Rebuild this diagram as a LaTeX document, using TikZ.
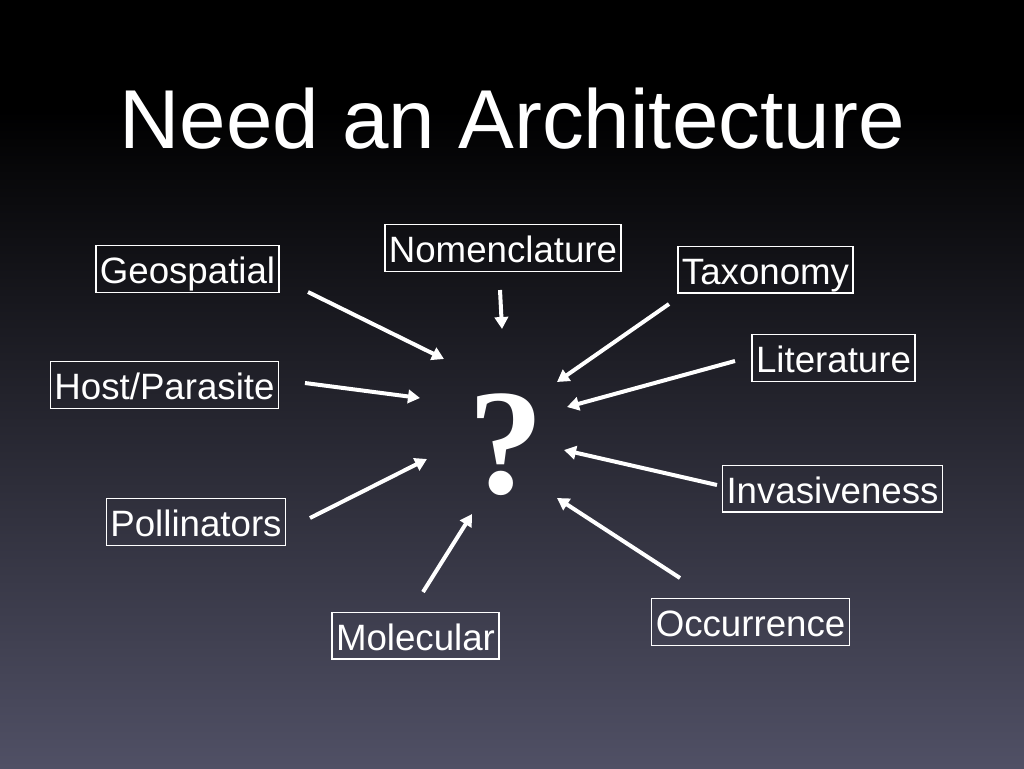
\documentclass[tikz,border=0pt]{standalone}
\usepackage{fontspec}
\setmainfont{Liberation Sans}
\newfontfamily\qfont{Liberation Serif}
\usetikzlibrary{arrows.meta}
\definecolor{bgbot}{RGB}{80,80,101}
\definecolor{bgmid}{RGB}{30,30,50}
\begin{document}
\begin{tikzpicture}[x=0.75pt,y=-0.75pt,
  lbl/.style={draw=white, line width=1pt, text=white,
    font=\fontsize{27.5}{27.5}\selectfont, inner xsep=3pt, inner ysep=1.5pt,
    text height=27pt, text depth=5pt},
  arr/.style={draw=white, line width=3pt, -{Triangle[length=9pt,width=10pt]}}]
\useasboundingbox (0,0) rectangle (1024,768);
\fill[black] (0,0) rectangle (1024,768);
\shade[top color=black, middle color=bgmid, bottom color=bgbot] (0,110) rectangle (1024,768);

\node[text=white, font=\fontsize{62.7}{62.7}\selectfont, anchor=base] (title) at (512,148) {Need an Architecture};

\node[text=white, font=\qfont\bfseries\fontsize{113}{113}\selectfont, anchor=base] (q) at (506,493) {?};

\node[lbl] (geo) at (187.5,269) {Geospatial};
\node[lbl] (nom) at (503,248) {Nomenclature};
\node[lbl] (tax) at (765.5,269.5) {Taxonomy};
\node[lbl] (host) at (164.5,385) {Host/Parasite};
\node[lbl] (lit) at (833.5,358) {Literature};
\node[lbl] (inv) at (832.5,488.5) {Invasiveness};
\node[lbl] (pol) at (196,522) {Pollinators};
\node[lbl] (mol) at (415.5,635.5) {Molecular};
\node[lbl] (occ) at (750.5,622) {Occurrence};

\coordinate (geoS) at (308,292);  \coordinate (geoE) at (444,359);
\coordinate (nomS) at (500,290);  \coordinate (nomE) at (502,329);
\coordinate (hostS) at (305,383); \coordinate (hostE) at (420,398);
\coordinate (taxS) at (669,304);  \coordinate (taxE) at (557,382);
\coordinate (litS) at (735,361);  \coordinate (litE) at (567,407);
\coordinate (polS) at (310,518);  \coordinate (polE) at (427,459);
\coordinate (molS) at (423,592);  \coordinate (molE) at (472,514);
\coordinate (invS) at (717,485);  \coordinate (invE) at (564,450);
\coordinate (occS) at (680,578);  \coordinate (occE) at (557,498);

\draw[arr] (geoS) -- (geoE);
\draw[arr] (nomS) -- (nomE);
\draw[arr] (hostS) -- (hostE);
\draw[arr] (taxS) -- (taxE);
\draw[arr] (litS) -- (litE);
\draw[arr] (polS) -- (polE);
\draw[arr] (molS) -- (molE);
\draw[arr] (invS) -- (invE);
\draw[arr] (occS) -- (occE);
\end{tikzpicture}
\end{document}
